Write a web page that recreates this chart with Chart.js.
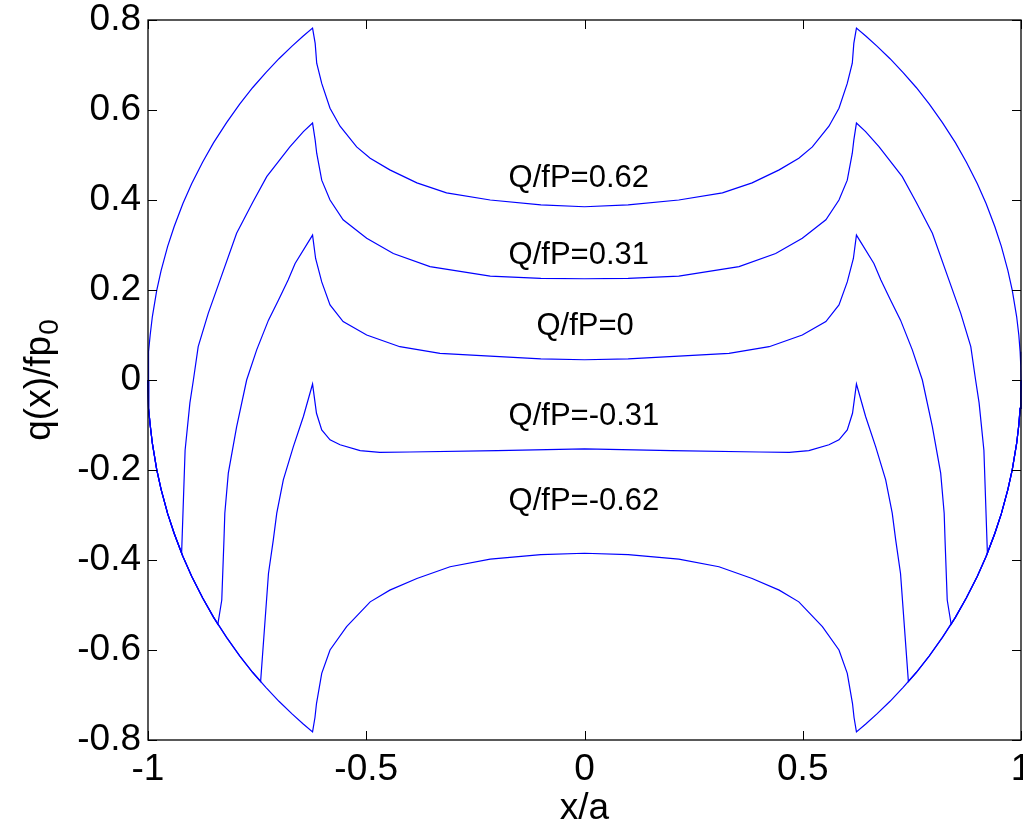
<!DOCTYPE html>
<html><head><meta charset="utf-8">
<script src="https://cdn.jsdelivr.net/npm/chart.js@4.4.1/dist/chart.umd.min.js"></script>
<style>html,body{margin:0;padding:0;background:#fff;overflow:hidden}canvas{display:block}</style>
</head><body>
<canvas id="c" width="1023" height="827" style="width:1023px;height:827px"></canvas>
<script>
// ---- data ----
const seriesNames = ['Q/fP=0.62', 'Q/fP=0.31', 'Q/fP=0', 'Q/fP=-0.31', 'Q/fP=-0.62'];

const xA = [-1,-0.9995,-0.998,-0.995,-0.99,-0.98,-0.97,-0.955,-0.94,-0.92,-0.9,-0.875,-0.85,-0.82,-0.79,-0.76,-0.73,-0.7,-0.67,-0.645,-0.623,
  -0.617,-0.6135,-0.602,-0.583,-0.56,-0.522,-0.491,-0.446,-0.384,-0.316,-0.216,-0.1,0,
  0.1,0.216,0.316,0.384,0.446,0.491,0.522,0.56,0.583,0.602,0.6135,0.617,
  0.623,0.645,0.67,0.7,0.73,0.76,0.79,0.82,0.85,0.875,0.9,0.92,0.94,0.955,0.97,0.98,0.99,0.995,0.998,0.9995,1];
const yA = [0,0.032,0.063,0.1,0.141,0.199,0.243,0.297,0.341,0.392,0.436,0.484,0.527,0.572,0.613,0.65,0.683,0.714,0.742,0.764,0.782,
  0.748,0.704,0.659,0.604,0.564,0.518,0.493,0.467,0.438,0.416,0.4,0.389,0.385,
  0.389,0.4,0.416,0.438,0.467,0.493,0.518,0.564,0.604,0.659,0.704,0.748,
  0.782,0.764,0.742,0.714,0.683,0.65,0.613,0.572,0.527,0.484,0.436,0.392,0.341,0.297,0.243,0.199,0.141,0.1,0.063,0.032,0];

const xB = [-1,-0.9995,-0.998,-0.995,-0.99,-0.98,-0.97,-0.955,-0.94,-0.923,
  -0.915,-0.904,-0.896,-0.885,-0.862,-0.835,-0.797,-0.76,-0.728,-0.675,-0.644,-0.623,
  -0.617,-0.6135,-0.602,-0.583,-0.553,-0.499,-0.438,-0.354,-0.216,-0.1,0,
  0.1,0.216,0.354,0.438,0.499,0.553,0.583,0.602,0.6135,0.617,
  0.623,0.644,0.675,0.728,0.76,0.797,0.835,0.862,0.885,0.896,0.904,0.915,
  0.923,0.94,0.955,0.97,0.98,0.99,0.995,0.998,0.9995,1];
const yB = [0,-0.032,-0.063,-0.1,-0.141,-0.199,-0.243,-0.297,-0.341,-0.385,
  -0.156,-0.051,0,0.074,0.148,0.222,0.326,0.395,0.452,0.518,0.552,0.571,
  0.533,0.504,0.444,0.4,0.356,0.315,0.281,0.252,0.231,0.226,0.225,
  0.226,0.231,0.252,0.281,0.315,0.356,0.4,0.444,0.504,0.533,
  0.571,0.552,0.518,0.452,0.395,0.326,0.222,0.148,0.074,0,-0.051,-0.156,
  -0.385,-0.341,-0.297,-0.243,-0.199,-0.141,-0.1,-0.063,-0.032,0];

const xC = [-1,-0.9995,-0.998,-0.995,-0.99,-0.98,-0.97,-0.955,-0.94,-0.92,-0.9,-0.875,-0.85,-0.84,
  -0.831,-0.826,-0.824,-0.816,-0.797,-0.774,-0.751,-0.724,-0.701,-0.679,-0.663,-0.623,
  -0.616,-0.602,-0.583,-0.553,-0.499,-0.423,-0.331,-0.216,-0.1,0,
  0.1,0.216,0.331,0.423,0.499,0.553,0.583,0.602,0.616,
  0.623,0.663,0.679,0.701,0.724,0.751,0.774,0.797,0.816,0.824,0.826,0.831,
  0.84,0.85,0.875,0.9,0.92,0.94,0.955,0.97,0.98,0.99,0.995,0.998,0.9995,1];
const yC = [0,-0.032,-0.063,-0.1,-0.141,-0.199,-0.243,-0.297,-0.341,-0.392,-0.436,-0.484,-0.527,-0.543,
  -0.489,-0.356,-0.296,-0.207,-0.104,0,0.067,0.133,0.178,0.222,0.259,0.322,
  0.27,0.218,0.167,0.13,0.1,0.074,0.059,0.053,0.047,0.045,
  0.047,0.053,0.059,0.074,0.1,0.13,0.167,0.218,0.27,
  0.322,0.259,0.222,0.178,0.133,0.067,0,-0.104,-0.207,-0.296,-0.356,-0.489,
  -0.543,-0.527,-0.484,-0.436,-0.392,-0.341,-0.297,-0.243,-0.199,-0.141,-0.1,-0.063,-0.032,0];

const xD = [-1,-0.9995,-0.998,-0.995,-0.99,-0.98,-0.97,-0.955,-0.94,-0.92,-0.9,-0.875,-0.85,-0.82,-0.79,-0.76,-0.742,
  -0.724,-0.713,-0.705,-0.69,-0.667,-0.644,-0.623,
  -0.614,-0.602,-0.583,-0.56,-0.514,-0.469,-0.4,-0.2,0,
  0.2,0.4,0.469,0.514,0.56,0.583,0.602,0.614,
  0.623,0.644,0.667,0.69,0.705,0.713,0.724,
  0.742,0.76,0.79,0.82,0.85,0.875,0.9,0.92,0.94,0.955,0.97,0.98,0.99,0.995,0.998,0.9995,1];
const yD = [0,-0.032,-0.063,-0.1,-0.141,-0.199,-0.243,-0.297,-0.341,-0.392,-0.436,-0.484,-0.527,-0.572,-0.613,-0.65,-0.67,
  -0.43,-0.356,-0.296,-0.222,-0.148,-0.081,-0.009,
  -0.074,-0.111,-0.133,-0.144,-0.157,-0.161,-0.16,-0.157,-0.153,
  -0.157,-0.16,-0.161,-0.157,-0.144,-0.133,-0.111,-0.074,
  -0.009,-0.081,-0.148,-0.222,-0.296,-0.356,-0.43,
  -0.67,-0.65,-0.613,-0.572,-0.527,-0.484,-0.436,-0.392,-0.341,-0.297,-0.243,-0.199,-0.141,-0.1,-0.063,-0.032,0];

const xE = [-1,-0.9995,-0.998,-0.995,-0.99,-0.98,-0.97,-0.955,-0.94,-0.92,-0.9,-0.875,-0.85,-0.82,-0.79,-0.76,-0.73,-0.7,-0.67,-0.645,-0.623,
  -0.6175,-0.614,-0.602,-0.583,-0.545,-0.491,-0.446,-0.384,-0.308,-0.216,-0.1,0,
  0.1,0.216,0.308,0.384,0.446,0.491,0.545,0.583,0.602,0.614,0.6175,
  0.623,0.645,0.67,0.7,0.73,0.76,0.79,0.82,0.85,0.875,0.9,0.92,0.94,0.955,0.97,0.98,0.99,0.995,0.998,0.9995,1];
const yE = [0,-0.032,-0.063,-0.1,-0.141,-0.199,-0.243,-0.297,-0.341,-0.392,-0.436,-0.484,-0.527,-0.572,-0.613,-0.65,-0.683,-0.714,-0.742,-0.764,-0.782,
  -0.75,-0.719,-0.652,-0.6,-0.548,-0.493,-0.467,-0.441,-0.415,-0.398,-0.388,-0.385,
  -0.388,-0.398,-0.415,-0.441,-0.467,-0.493,-0.548,-0.6,-0.652,-0.719,-0.75,
  -0.782,-0.764,-0.742,-0.714,-0.683,-0.65,-0.613,-0.572,-0.527,-0.484,-0.436,-0.392,-0.341,-0.297,-0.243,-0.199,-0.141,-0.1,-0.063,-0.032,0];

const xTickValues = [-1, -0.5, 0, 0.5, 1];
const xTickLabels = ['-1', '-0.5', '0', '0.5', '1'];
const yTickValues = [-0.8, -0.6, -0.4, -0.2, 0, 0.2, 0.4, 0.6, 0.8];
const yTickLabels = ['-0.8', '-0.6', '-0.4', '-0.2', '0', '0.2', '0.4', '0.6', '0.8'];

// text annotations (anchored in data coordinates)
const noteTexts = ['Q/fP=0.62', 'Q/fP=0.31', 'Q/fP=0', 'Q/fP=-0.31', 'Q/fP=-0.62'];
const noteX = [-0.174, -0.174, -0.110, -0.174, -0.174];
const noteY = [0.447, 0.276, 0.118, -0.082, -0.270];

// ---- chart ----
const FONT = "'Liberation Sans', Arial, Helvetica, sans-serif";
const xs = [xA, xB, xC, xD, xE];
const ys = [yA, yB, yC, yD, yE];

const datasets = seriesNames.map((name, k) => ({
  label: name,
  data: xs[k].map((v, i) => ({ x: v, y: ys[k][i] })),
  borderColor: '#0000ff',
  borderWidth: 1.2,
  pointRadius: 0,
  tension: 0,
  fill: false,
  clip: false
}));

const matlabPlugin = {
  id: 'matlab',
  afterDatasetsDraw(chart) {
    const { ctx, chartArea: a, scales: { x, y } } = chart;
    ctx.save();
    // annotations
    ctx.fillStyle = '#000';
    ctx.font = `31px ${FONT}`;
    ctx.textAlign = 'left';
    ctx.textBaseline = 'middle';
    noteTexts.forEach((t, i) => ctx.fillText(t, x.getPixelForValue(noteX[i]), y.getPixelForValue(noteY[i])));
    // box
    ctx.strokeStyle = '#000';
    ctx.lineWidth = 1.3;
    ctx.strokeRect(a.left, a.top, a.right - a.left, a.bottom - a.top);
    // inward ticks on all sides
    const L = 9;
    ctx.lineWidth = 1;
    ctx.beginPath();
    yTickValues.forEach(v => {
      const p = Math.round(y.getPixelForValue(v)) + 0.5;
      ctx.moveTo(a.left, p); ctx.lineTo(a.left + L, p);
      ctx.moveTo(a.right, p); ctx.lineTo(a.right - L, p);
    });
    xTickValues.forEach(v => {
      const p = Math.round(x.getPixelForValue(v)) + 0.5;
      ctx.moveTo(p, a.bottom); ctx.lineTo(p, a.bottom - L);
      ctx.moveTo(p, a.top); ctx.lineTo(p, a.top + L);
    });
    ctx.stroke();
    // y-axis title with subscript
    const cy = (a.top + a.bottom) / 2;
    ctx.font = `37px ${FONT}`;
    const main = 'q(x)/fp';
    const wMain = ctx.measureText(main).width;
    ctx.font = `28px ${FONT}`;
    const wSub = ctx.measureText('0').width;
    const total = wMain + 1 + wSub;
    ctx.translate(50, cy);
    ctx.rotate(-Math.PI / 2);
    ctx.textBaseline = 'alphabetic';
    ctx.textAlign = 'left';
    ctx.font = `37px ${FONT}`;
    ctx.fillText(main, -total / 2, 0);
    ctx.font = `28px ${FONT}`;
    ctx.fillText('0', -total / 2 + wMain + 1, 8);
    ctx.restore();
  }
};

new Chart(document.getElementById('c'), {
  type: 'line',
  data: { datasets },
  plugins: [matlabPlugin],
  options: {
    responsive: false,
    animation: false,
    events: [],
    layout: { padding: { left: 0, right: 2, top: 20, bottom: 0 } },
    plugins: { legend: { display: false }, tooltip: { enabled: false } },
    scales: {
      x: {
        type: 'linear', min: -1, max: 1,
        afterBuildTicks: s => { s.ticks = xTickValues.map(v => ({ value: v })); },
        afterFit: s => { s.height = 87; s.paddingLeft = 0; s.paddingRight = 0; },
        ticks: { callback: (v, i) => xTickLabels[i], font: { family: FONT, size: 37 }, color: '#000', padding: 8, maxRotation: 0, autoSkip: false },
        grid: { display: false, drawTicks: false },
        border: { display: false },
        title: { display: true, text: 'x/a', color: '#000', font: { family: FONT, size: 37, lineHeight: 1 }, padding: { top: 0, bottom: 0 } }
      },
      y: {
        type: 'linear', min: -0.8, max: 0.8,
        afterBuildTicks: s => { s.ticks = yTickValues.map(v => ({ value: v })); },
        afterFit: s => { s.width = 148; s.paddingTop = 0; s.paddingBottom = 0; },
        ticks: { callback: (v, i) => yTickLabels[i], font: { family: FONT, size: 37 }, color: '#000', padding: 7, autoSkip: false },
        grid: { display: false, drawTicks: false },
        border: { display: false }
      }
    }
  }
});
</script>
</body></html>
